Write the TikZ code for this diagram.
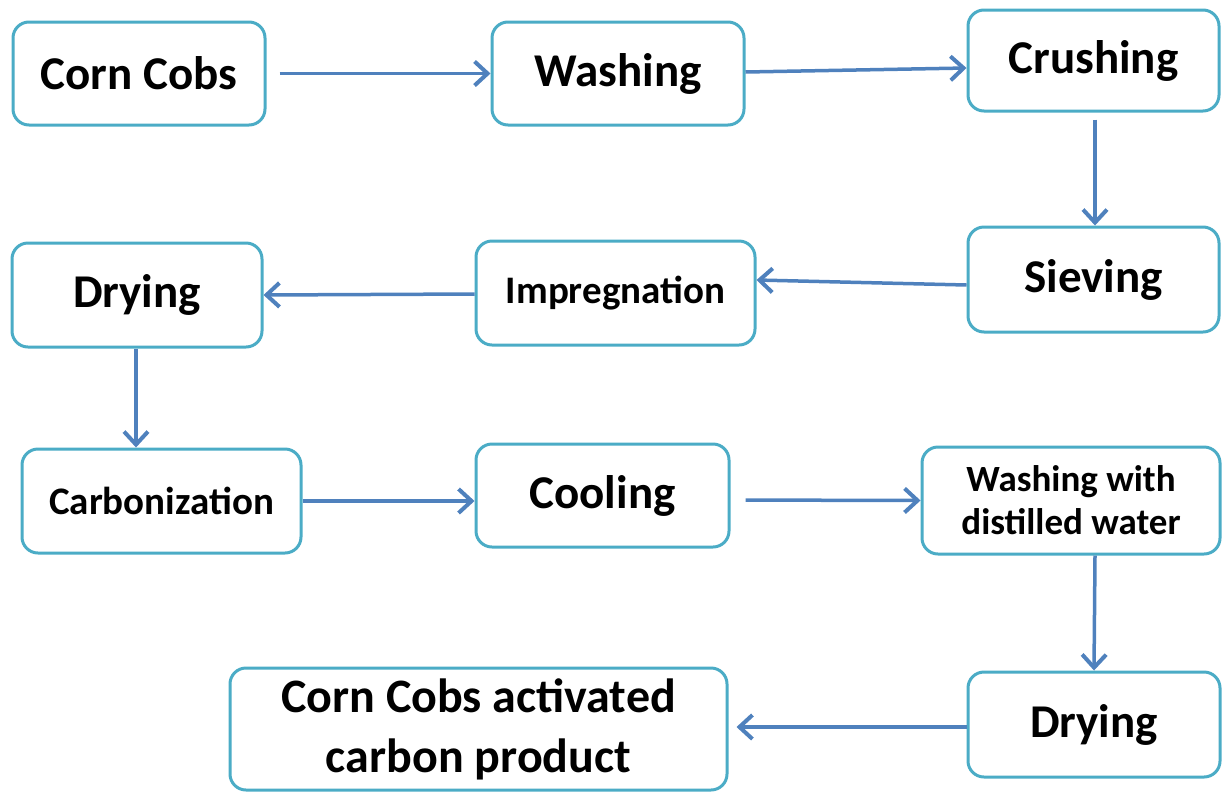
\documentclass[tikz,border=0pt]{standalone}
\usepackage{fontspec}
\setmainfont{Carlito}
\usetikzlibrary{arrows.meta}
\definecolor{boxline}{HTML}{4BACC6}
\definecolor{arrowc}{HTML}{4F81BD}
\tikzset{
  stepbox/.style={draw=boxline, line width=3pt, rounded corners=16pt, fill=white,
    inner sep=0pt, align=center, font=\bfseries\fontsize{47}{56}\selectfont},
  smallbox/.style={stepbox, font=\bfseries\fontsize{39}{44}\selectfont},
  twobox/.style={stepbox, font=\bfseries\fontsize{37}{43}\selectfont},
  prodbox/.style={stepbox, font=\bfseries\fontsize{48}{60}\selectfont},
  flow/.style={draw=arrowc, line width=3.5pt, -{Straight Barb[length=13pt,width=24pt,line width=4pt]}}
}
\begin{document}
\begin{tikzpicture}[x=1pt,y=-1pt]
\useasboundingbox (0,0) rectangle (1222,793);
\node[stepbox, minimum width=252pt, minimum height=103pt] (cobs) at (139,73.5) {Corn Cobs};
\node[stepbox, minimum width=252pt, minimum height=103pt] (wash) at (618,73.5) {Washing};
\node[stepbox, minimum width=251pt, minimum height=101pt] (crush) at (1093.5,60.5) {Crushing};
\node[stepbox, minimum width=251pt, minimum height=105pt] (sieve) at (1093.5,279.5) {Sieving};
\node[smallbox, minimum width=279pt, minimum height=104pt] (impreg) at (615.5,293) {Impregnation};
\node[stepbox, minimum width=250pt, minimum height=104pt] (dry1) at (137,295) {Drying};
\node[smallbox, minimum width=279pt, minimum height=104pt] (carb) at (161.5,501) {Carbonization};
\node[stepbox, minimum width=253pt, minimum height=103pt] (cool) at (602.5,495.5) {Cooling};
\node[twobox, minimum width=298pt, minimum height=107pt] (wwater) at (1071,500.5) {Washing with\\distilled water};
\node[stepbox, minimum width=252pt, minimum height=105pt] (dry2) at (1094,724.5) {Drying};
\node[prodbox, minimum width=497pt, minimum height=122pt] (prod) at (478.5,729) {Corn Cobs activated\\carbon product};

\draw[flow, shorten <=13pt] (cobs.east) -- (wash.west);
\draw[flow] ([yshift=1.5pt]wash.east) -- ([yshift=-7.5pt]crush.west);
\draw[flow, shorten <=7pt] ([xshift=1.5pt]crush.south) -- ([xshift=1.5pt]sieve.north);
\draw[flow] ([yshift=-5.5pt]sieve.west) -- ([yshift=13pt]impreg.west -| impreg.east);
\draw[flow] ([yshift=-1pt]impreg.west) -- (dry1.east);
\draw[flow] ([xshift=-1pt]dry1.south) -- ([xshift=-25.5pt]carb.north);
\draw[flow] (carb.east) -- ([yshift=-5.5pt]cool.west);
\draw[flow, shorten <=15pt] ([yshift=-4.5pt]cool.east) -- (wwater.west);
\draw[flow] ([xshift=24pt]wwater.south) -- (dry2.north);
\draw[flow, shorten >=8pt] ([yshift=-2.5pt]dry2.west) -- ([yshift=2pt]prod.east);
\end{tikzpicture}
\end{document}
